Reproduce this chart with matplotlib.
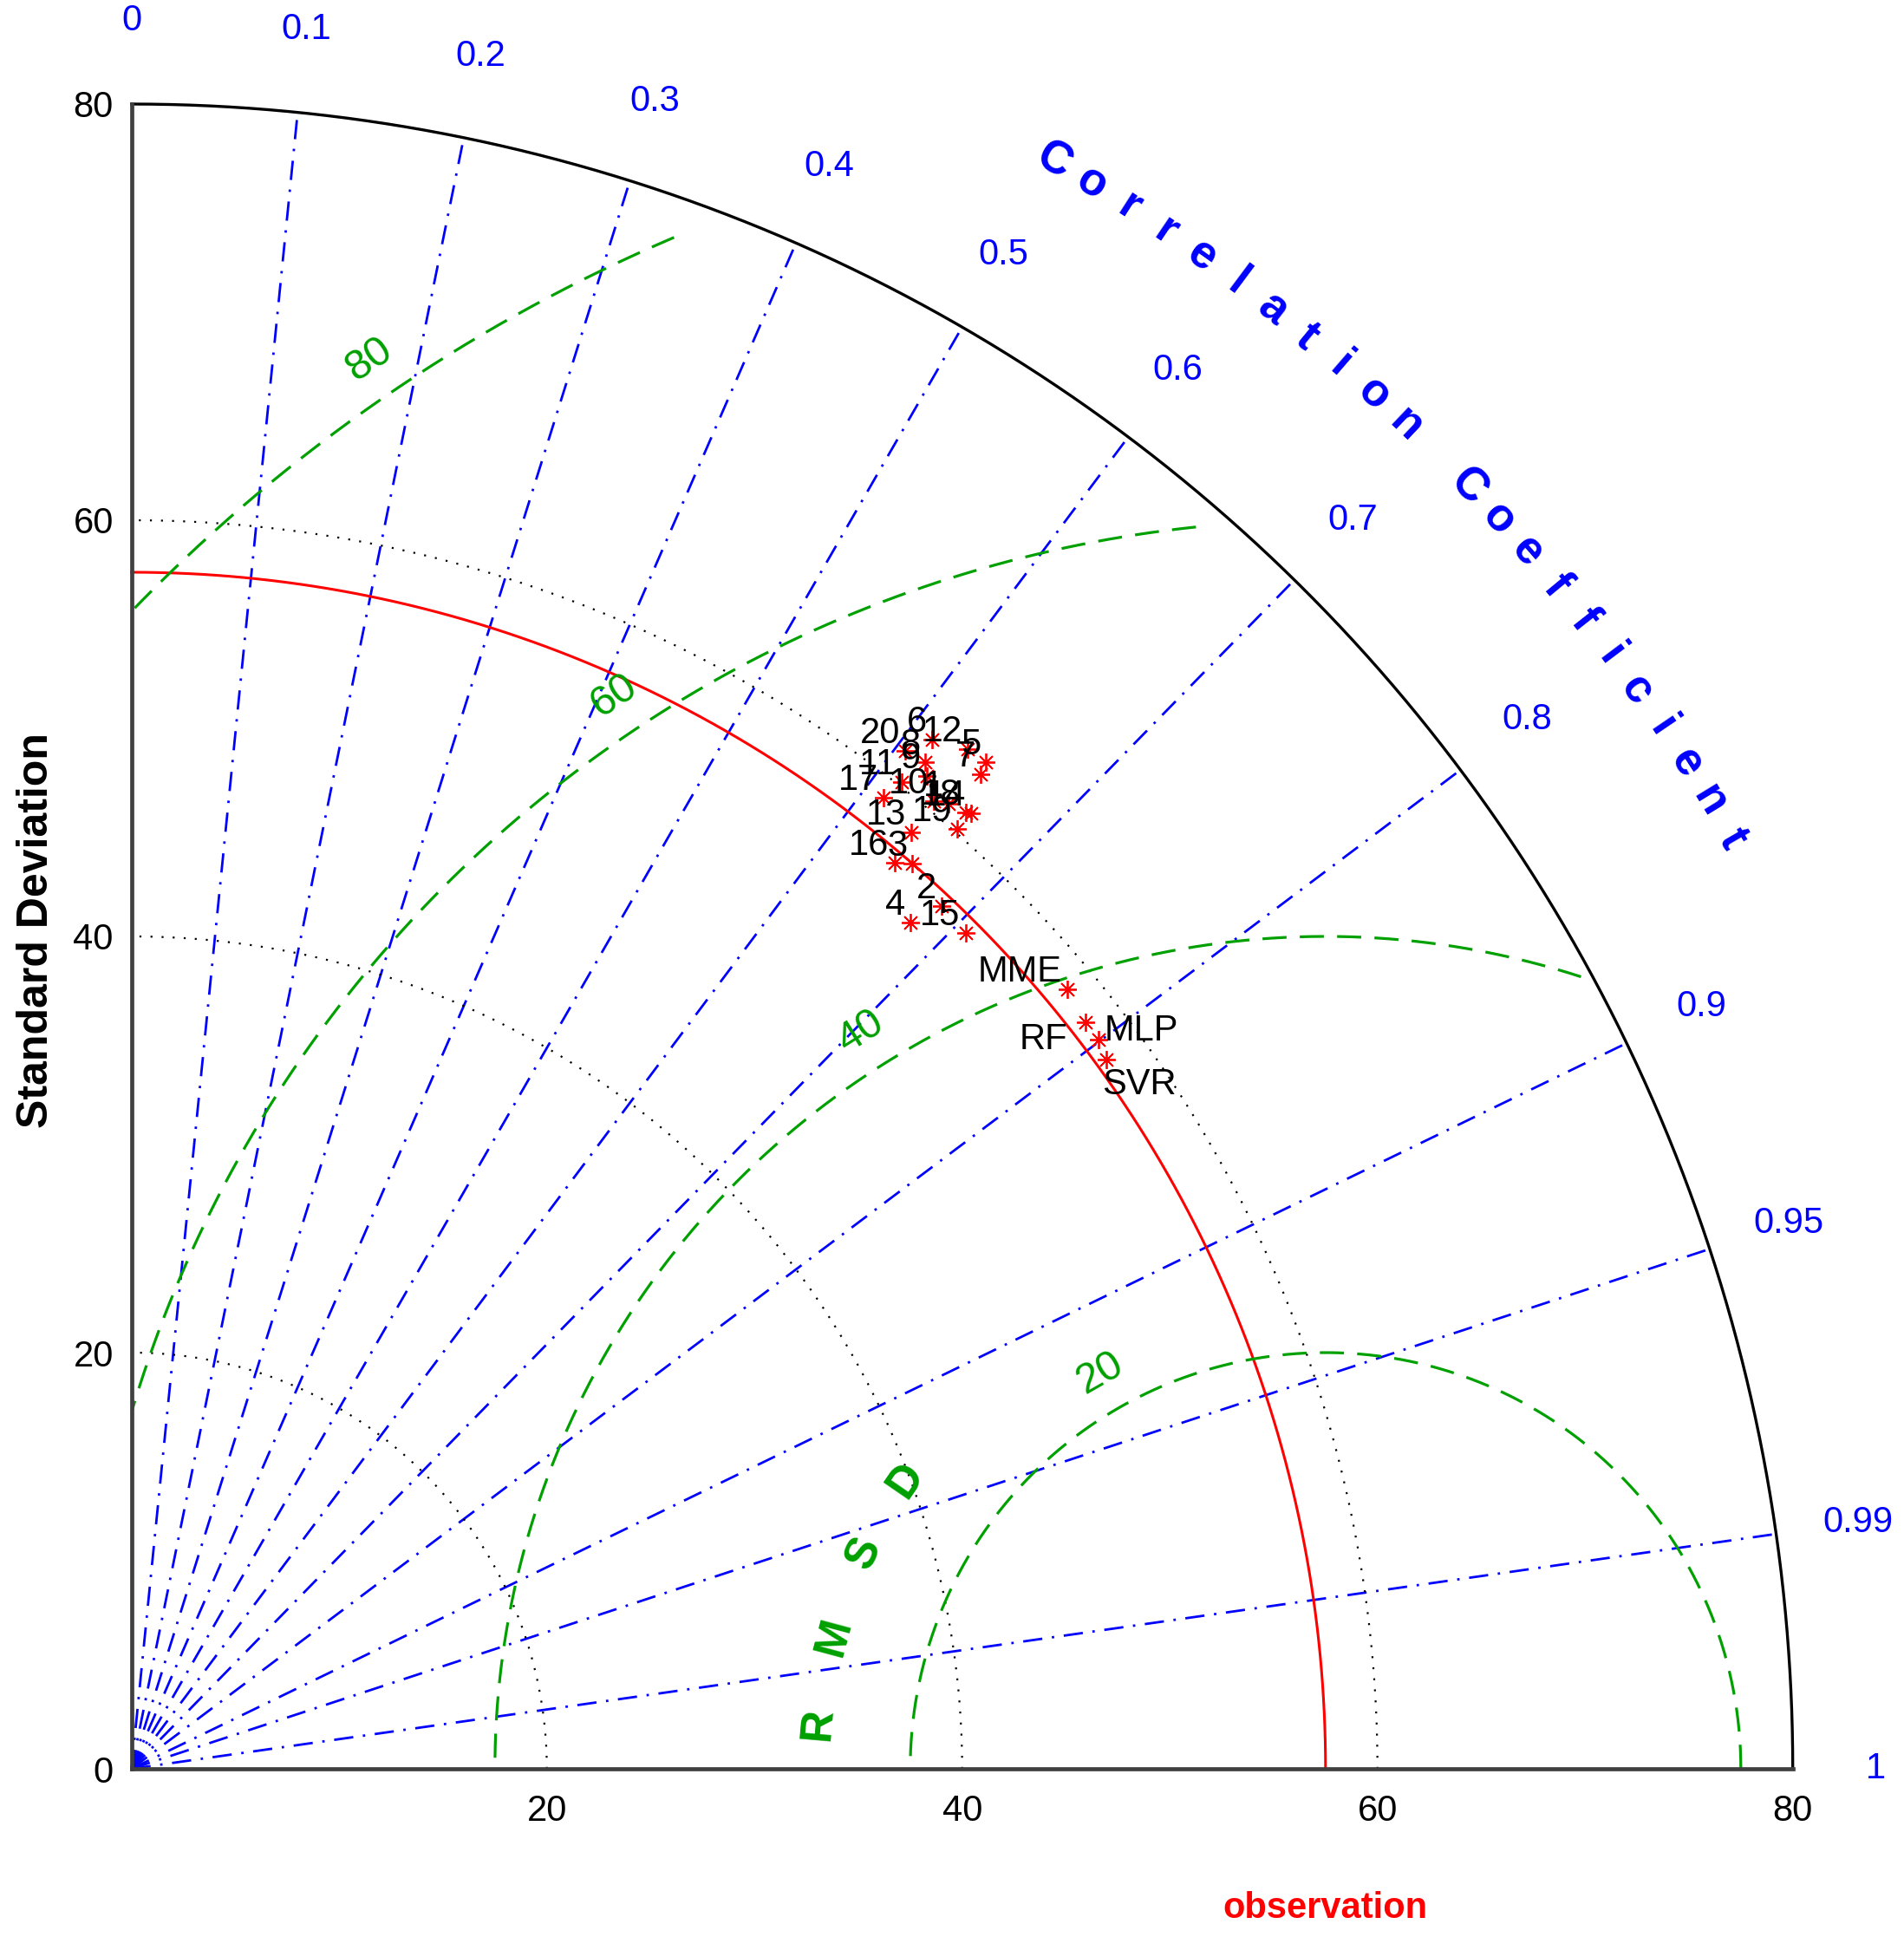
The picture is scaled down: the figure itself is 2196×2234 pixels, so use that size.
import numpy as np
import matplotlib
matplotlib.use('Agg')
import matplotlib.pyplot as plt

plt.rcParams['font.family'] = ['Liberation Sans', 'DejaVu Sans']
plt.rcParams['lines.scale_dashes'] = False

# model statistics (standard deviation, correlation with observation)
labels = ['1', '2', '3', '4', '5', '6', '7', '8', '9', '10',
          '11', '12', '13', '14', '15', '16', '17', '18', '19', '20',
          'MME', 'RF', 'MLP', 'SVR']
sdev = [60.80, 56.93, 57.50, 55.33, 63.51, 62.70, 62.91, 61.67, 61.16, 60.46,
        60.20, 63.41, 58.61, 61.17, 56.81, 56.96, 59.09, 61.05, 60.18, 61.50,
        58.58, 58.28, 58.27, 58.01]
ccoef = [0.647, 0.685, 0.654, 0.678, 0.648, 0.615, 0.650, 0.620, 0.626, 0.639,
         0.616, 0.635, 0.641, 0.661, 0.707, 0.645, 0.613, 0.658, 0.661, 0.606,
         0.769, 0.788, 0.799, 0.809]

obs_std = 57.5
rmax = 80
std_ticks = [0, 20, 40, 60, 80]
std_arcs = [20, 40, 60]
corr_ticks = [0, 0.1, 0.2, 0.3, 0.4, 0.5, 0.6, 0.7, 0.8, 0.9, 0.95, 0.99, 1]
rms_levels = [20, 40, 60, 80]

# where the label of each rms circle sits (angle seen from the observation point)
rms_label_ang = [119.7, 122.3, 123.6, 124.2]
# the rms circles stop a little short of the outer arc
rms_stop = [79.5, 79.6, 78.8, 78.2]

# label placement: (dx, dy) in pixels, alignment
lab_off = {'RF': (-20, -31, 'right'), 'MLP': (7, -1, 'left'), 'SVR': (-5, -40, 'left')}

green = '#00a000'
blue = '#0000ff'

fig = plt.figure(figsize=(21.96, 22.34), dpi=100)
ax = fig.add_axes([0, 0, 1, 1])
ax.set_xlim(-151.7 / 23.95, (2196 - 151.7) / 23.95)
ax.set_ylim(-194 / 24.0, 2040 / 24.0)

for s in ['top', 'right']:
    ax.spines[s].set_visible(False)
for s in ['left', 'bottom']:
    ax.spines[s].set_position(('data', 0))
    ax.spines[s].set_bounds(0, rmax)
    ax.spines[s].set_linewidth(3.4)
    ax.spines[s].set_color('#404040')
ax.set_xticks(std_ticks[1:])
ax.set_yticks(std_ticks)
ax.tick_params(axis='both', length=0, labelsize=30)
ax.tick_params(axis='y', pad=15)
ax.tick_params(axis='x', pad=21)

th = np.linspace(0, np.pi / 2, 400)

# correlation lines
for c in corr_ticks[1:-1]:
    a = np.arccos(c)
    ax.plot([0, rmax * np.cos(a)], [0, rmax * np.sin(a)], color=blue, lw=2.0,
            linestyle=(0, (16, 8, 2, 8)))
for c in corr_ticks:
    a = np.arccos(c)
    ax.text(1.05 * rmax * np.cos(a), 1.05 * rmax * np.sin(a), str(c), color=blue,
            fontsize=30, ha='center', va='center')

# standard deviation arcs
for r in std_arcs:
    ax.plot(r * np.cos(th), r * np.sin(th), color='black', lw=1.6,
            linestyle=(0, (1.6, 7.6)))
ax.plot(rmax * np.cos(th), rmax * np.sin(th), color='black', lw=2.4)
ax.plot(obs_std * np.cos(th), obs_std * np.sin(th), color='red', lw=2.2)

# centred rms difference circles
phi = np.linspace(0, np.pi, 800)
for r, ang, stop in zip(rms_levels, rms_label_ang, rms_stop):
    x = obs_std + r * np.cos(phi)
    y = r * np.sin(phi)
    bad = (x < 0) | (np.hypot(x, y) > stop)
    x[bad] = np.nan
    y[bad] = np.nan
    ax.plot(x, y, color=green, lw=2.3, linestyle=(0, (20, 11)))
    a = np.radians(ang)
    ax.text(obs_std + (r + 1.9) * np.cos(a), (r + 1.9) * np.sin(a), str(r),
            color=green, fontsize=35, ha='center', va='center', rotation=ang - 90,
            rotation_mode='anchor')

for ch, ang in zip('RMSD', [175, 165, 155, 145.5]):
    a = np.radians(ang)
    ax.text(obs_std + 24.5 * np.cos(a), 24.5 * np.sin(a), ch, color=green,
            fontsize=37, fontweight='bold', ha='center', va='center',
            rotation=ang - 90, rotation_mode='anchor')

title = 'Correlation Coefficient'
for ch, ang in zip(title, np.linspace(60.1, 30.1, len(title))):
    a = np.radians(ang)
    ax.text(89.1 * np.cos(a), 89.1 * np.sin(a), ch, color=blue, fontsize=38,
            fontweight='bold', ha='center', va='center', rotation=ang - 90,
            rotation_mode='anchor')

# model points
sd = np.array(sdev)
cc = np.array(ccoef)
px = sd * cc
py = sd * np.sqrt(1 - cc ** 2)
ax.plot(px, py, linestyle='none', marker=(8, 2, 0), ms=15, mec='red', mew=1.3)
for lab, x, y in zip(labels, px, py):
    dx, dy, ha = lab_off.get(lab, (-6, 9, 'right'))
    ax.annotate(lab, (x, y), xytext=(dx, dy), textcoords='offset pixels',
                ha=ha, va='baseline', fontsize=30, color='black')

ax.text(-4.56, 40.3, 'Standard Deviation', rotation=90, ha='center', va='center',
        fontsize=36, fontweight='bold')
ax.text(obs_std, -6.7, 'observation', color='red', fontsize=30, fontweight='bold',
        ha='center', va='center')

fig.savefig('out.png', dpi=100)
